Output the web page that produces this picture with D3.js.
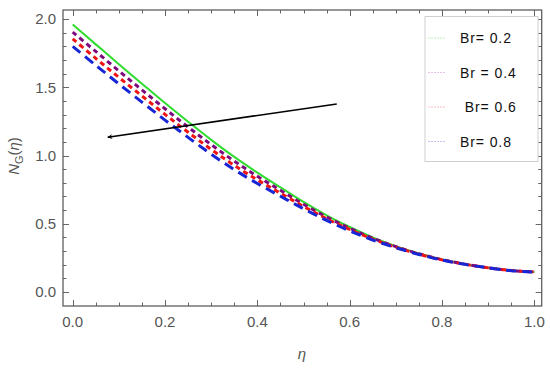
<!DOCTYPE html>
<html>
<head>
<meta charset="utf-8">
<script src="https://cdn.jsdelivr.net/npm/d3@7"></script>
<style>
  html, body { margin: 0; padding: 0; background: #fff; }
  svg { display: block; }
  text { font-family: "Liberation Sans", Arial, sans-serif; }
</style>
</head>
<body>
<div id="chart"></div>
<script>
// ---- data ----
const etaVals = [0, 0.05, 0.1, 0.15, 0.2, 0.25, 0.3, 0.35, 0.4, 0.45, 0.5, 0.55, 0.6, 0.65, 0.7, 0.75, 0.8, 0.85, 0.9, 0.95, 1.0];
const ngBr02 = [1.960, 1.815, 1.670, 1.527, 1.385, 1.248, 1.115, 0.990, 0.875, 0.767, 0.660, 0.562, 0.476, 0.400, 0.336, 0.282, 0.238, 0.204, 0.177, 0.157, 0.147];
const ngBr04 = [1.905, 1.763, 1.621, 1.481, 1.343, 1.209, 1.080, 0.959, 0.848, 0.745, 0.643, 0.549, 0.467, 0.394, 0.332, 0.280, 0.237, 0.204, 0.177, 0.157, 0.147];
const ngBr06 = [1.855, 1.713, 1.573, 1.437, 1.302, 1.171, 1.045, 0.928, 0.822, 0.724, 0.627, 0.537, 0.458, 0.388, 0.328, 0.277, 0.235, 0.203, 0.177, 0.157, 0.147];
const ngBr08 = [1.800, 1.662, 1.525, 1.392, 1.260, 1.133, 1.010, 0.897, 0.795, 0.702, 0.610, 0.524, 0.448, 0.381, 0.324, 0.275, 0.234, 0.202, 0.177, 0.156, 0.146];
const legendLabels = ["Br= 0.2", "Br = 0.4", " Br= 0.6", "Br= 0.8"];
const xTickLabels = [0, 0.2, 0.4, 0.6, 0.8, 1.0];
const yTickLabels = [0, 0.5, 1.0, 1.5, 2.0];
const arrowFrom = [0.572, 1.378];
const arrowTo = [0.076, 1.134];

// ---- layout ----
const W = 550, H = 371;
const svg = d3.select("#chart").append("svg").attr("width", W).attr("height", H);
const pL = 63, pR = 541.7, pT = 10, pB = 306;
const x = d3.scaleLinear().domain([-0.021, 1.016]).range([pL, pR]);
const y = d3.scaleLinear().domain([-0.103, 2.067]).range([pB, pT]);

const defs = svg.append("defs");
defs.append("clipPath").attr("id", "clip").append("rect")
  .attr("x", pL).attr("y", pT).attr("width", pR - pL).attr("height", pB - pT);
defs.append("marker").attr("id", "arrowhead").attr("viewBox", "0 0 10 10")
  .attr("refX", 9).attr("refY", 5).attr("markerWidth", 7).attr("markerHeight", 5)
  .attr("orient", "auto").attr("markerUnits", "userSpaceOnUse")
  .append("path").attr("d", "M0,0 L10,5 L0,10 L3,5 Z").attr("fill", "#000");

const frameColor = "#5f5f5f";
const tickColor = "#666";
const labelColor = "#555";

// ---- ticks (inward, on all four sides) ----
const xMinor = d3.range(0, 1.0001, 0.05).map(v => +v.toFixed(2));
const yMinor = d3.range(0, 2.0001, 0.1).map(v => +v.toFixed(2));
const isMajX = v => xTickLabels.some(t => Math.abs(t - v) < 1e-6);
const isMajY = v => yTickLabels.some(t => Math.abs(t - v) < 1e-6);

const tk = svg.append("g").attr("stroke", tickColor).attr("stroke-width", 1);
xMinor.forEach(v => {
  const L = isMajX(v) ? 6 : 3.5;
  const px = Math.round(x(v)) + 0.5;
  tk.append("line").attr("x1", px).attr("x2", px).attr("y1", pB).attr("y2", pB - L);
  tk.append("line").attr("x1", px).attr("x2", px).attr("y1", pT).attr("y2", pT + L);
});
yMinor.forEach(v => {
  const L = isMajY(v) ? 6 : 3.5;
  const py = Math.round(y(v)) + 0.5;
  tk.append("line").attr("x1", pL).attr("x2", pL + L).attr("y1", py).attr("y2", py);
  tk.append("line").attr("x1", pR).attr("x2", pR - L).attr("y1", py).attr("y2", py);
});

// frame
svg.append("rect").attr("x", pL).attr("y", pT).attr("width", pR - pL).attr("height", pB - pT)
  .attr("fill", "none").attr("stroke", frameColor).attr("stroke-width", 1.3);

// tick labels
const fmt = d3.format(".1f");
svg.append("g").selectAll("text").data(xTickLabels).join("text")
  .attr("x", d => x(d)).attr("y", 327).attr("text-anchor", "middle")
  .attr("font-size", 15).attr("fill", labelColor).text(d => fmt(d));
svg.append("g").selectAll("text").data(yTickLabels).join("text")
  .attr("x", 56).attr("y", d => y(d) + 5.3).attr("text-anchor", "end")
  .attr("font-size", 15).attr("fill", labelColor).text(d => fmt(d));

// axis titles
svg.append("text").attr("x", 302).attr("y", 359).attr("text-anchor", "middle")
  .attr("font-size", 15).attr("font-style", "italic").attr("fill", labelColor).text("η");
const yl = svg.append("text").attr("transform", "translate(19,156) rotate(-90)")
  .attr("text-anchor", "middle").attr("font-size", 15).attr("fill", labelColor);
yl.append("tspan").attr("font-style", "italic").text("N");
yl.append("tspan").attr("font-size", 11).attr("dy", 4).text("G");
yl.append("tspan").attr("dy", -4).text("(");
yl.append("tspan").attr("font-style", "italic").text("η");
yl.append("tspan").text(")");

// ---- curves ----
const series = [
  { vals: ngBr02, color: "#2fdc2f", width: 2, dash: null },
  { vals: ngBr04, color: "#7d0a7d", width: 3, dash: "5,4" },
  { vals: ngBr06, color: "#f01414", width: 3, dash: "5,4" },
  { vals: ngBr08, color: "#1626d6", width: 3, dash: "10,6" }
];
const line = d3.line().x((d, i) => x(etaVals[i])).y(d => y(d)).curve(d3.curveCatmullRom);
const cg = svg.append("g").attr("clip-path", "url(#clip)");
series.forEach(s => {
  cg.append("path").attr("d", line(s.vals)).attr("fill", "none")
    .attr("stroke", s.color).attr("stroke-width", s.width)
    .attr("stroke-dasharray", s.dash);
});

// arrow
svg.append("line")
  .attr("x1", x(arrowFrom[0])).attr("y1", y(arrowFrom[1]))
  .attr("x2", x(arrowTo[0])).attr("y2", y(arrowTo[1]))
  .attr("stroke", "#000").attr("stroke-width", 1.7).attr("marker-end", "url(#arrowhead)");

// ---- legend ----
const lg = svg.append("g");
lg.append("rect").attr("x", 425).attr("y", 16.5).attr("width", 113).attr("height", 145)
  .attr("fill", "#fff").attr("stroke", "#cfcfcf").attr("stroke-width", 1);
const legendColors = ["#bfeebf", "#e6c3e6", "#f7bcbc", "#c4c4f2"];
const legendTextX = [460, 460, 460, 460];
legendLabels.forEach((lab, i) => {
  const cy = 38 + i * 34.5;
  lg.append("line").attr("x1", 428).attr("x2", 445).attr("y1", cy).attr("y2", cy)
    .attr("stroke", legendColors[i]).attr("stroke-width", 1).attr("stroke-dasharray", "2,1");
  lg.append("text").attr("x", legendTextX[i]).attr("y", cy + 5)
    .attr("font-size", 14).attr("letter-spacing", 0.9).attr("fill", "#111")
    .attr("xml:space", "preserve").style("white-space", "pre").text(lab);
});
</script>
</body>
</html>
